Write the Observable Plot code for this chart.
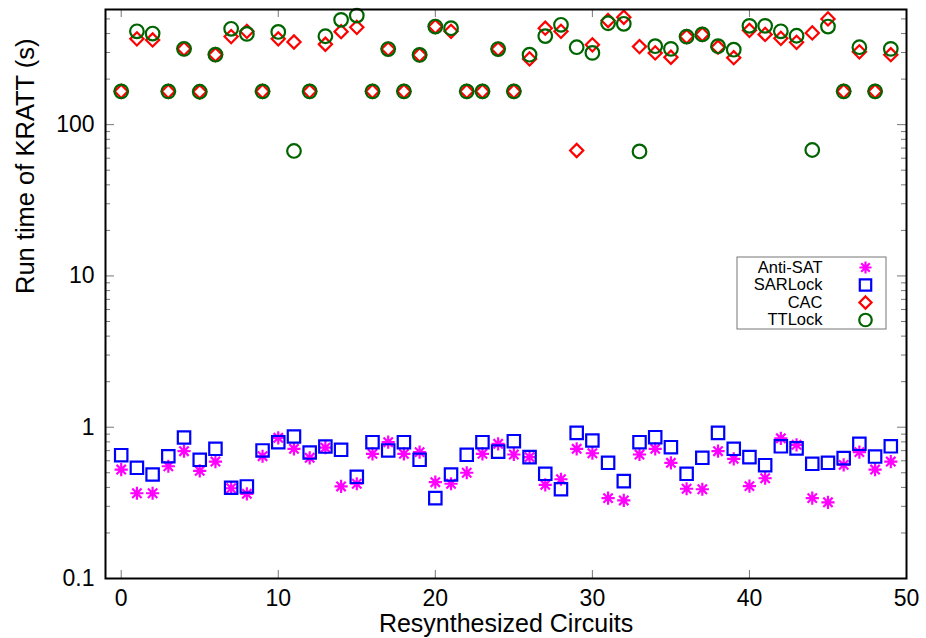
<!DOCTYPE html>
<html>
<head>
<meta charset="utf-8">
<script src="https://cdn.jsdelivr.net/npm/d3@7"></script>
<script src="https://cdn.jsdelivr.net/npm/@observablehq/plot@0.6"></script>
<style>
  html, body { margin: 0; padding: 0; background: white; }
  #chart { width: 926px; height: 638px; }
</style>
</head>
<body>
<div id="chart"></div>
<script>
// ---- data ----
const circuits = d3.range(50);
const antiSAT = [0.525,0.366,0.366,0.552,0.694,0.515,0.593,0.395,0.363,0.643,
                 0.851,0.720,0.628,0.732,0.406,0.423,0.667,0.796,0.667,0.684,
                 0.433,0.423,0.500,0.667,0.777,0.660,0.634,0.416,0.453,0.720,
                 0.673,0.340,0.328,0.660,0.720,0.582,0.392,0.389,0.694,0.618,
                 0.408,0.460,0.845,0.765,0.340,0.319,0.564,0.684,0.525,0.593];
const sarLock = [0.653,0.539,0.487,0.643,0.855,0.609,0.720,0.398,0.406,0.702,
                 0.796,0.868,0.680,0.745,0.709,0.470,0.796,0.702,0.796,0.609,
                 0.340,0.487,0.657,0.796,0.690,0.808,0.634,0.492,0.389,0.918,
                 0.817,0.582,0.440,0.796,0.859,0.738,0.492,0.628,0.918,0.720,
                 0.634,0.561,0.748,0.725,0.573,0.582,0.625,0.777,0.640,0.748];
const cac = [166,369,363,166,317,165,290,382,414,166,
             369,352,166,340,412,440,166,316,166,289,
             445,414,166,166,316,166,272,434,414,67.5,
             337,488,513,328,298,279,382,395,325,277,
             420,395,372,350,404,500,166,303,166,290];
const ttLock = [166,414,400,166,317,165,290,430,398,166,
                410,67,166,384,493,526,166,316,166,289,
                445,434,166,166,316,166,290,385,457,325,
                298,468,464,66.5,330,317,382,395,330,313,
                450,450,414,387,68,445,166,325,166,317];
const seriesNames = ["Anti-SAT", "SARLock", "CAC", "TTLock"];
const seriesColors = ["#ff00ff", "#0000ff", "#ff0000", "#006400"];
const xTicks = [0, 10, 20, 30, 40, 50];
const yMajor = [0.1, 1, 10, 100];
const yMinor = [0.2,0.3,0.4,0.5,0.6,0.7,0.8,0.9,2,3,4,5,6,7,8,9,20,30,40,50,60,70,80,90,200,300,400,500];

// ---- symbols ----
const rad = (size) => Math.sqrt(size / Math.PI);
const symAsterisk = {draw(c, size) { const r = rad(size), d = r * Math.SQRT1_2;
  c.moveTo(-r, 0); c.lineTo(r, 0); c.moveTo(0, -r); c.lineTo(0, r);
  c.moveTo(-d, -d); c.lineTo(d, d); c.moveTo(-d, d); c.lineTo(d, -d); }};
const symSquare = {draw(c, size) { const r = rad(size);
  c.moveTo(-r, -r); c.lineTo(r, -r); c.lineTo(r, r); c.lineTo(-r, r); c.closePath(); }};
const symDiamond = {draw(c, size) { const r = rad(size);
  c.moveTo(0, -r); c.lineTo(r, 0); c.lineTo(0, r); c.lineTo(-r, 0); c.closePath(); }};
const symCircle = {draw(c, size) { const r = rad(size);
  c.moveTo(r, 0); c.arc(0, 0, r, 0, 2 * Math.PI); c.closePath(); }};
const symbols = [symAsterisk, symSquare, symDiamond, symCircle];
const radii = [6.6, 6.2, 6.6, 6.8];
const values = [antiSAT, sarLock, cac, ttLock];

const W = 926, H = 638, mL = 105, mR = 20, mT = 9, mB = 60;
const pw = W - mL - mR, ph = H - mT - mB;
const tickColor = "#777";

const marks = [];
// ticks (inward, mirrored)
marks.push(Plot.tickX(xTicks, {x: d => d, insetTop: ph - 8, stroke: tickColor}));
marks.push(Plot.tickX(xTicks, {x: d => d, insetBottom: ph - 8, stroke: tickColor}));
marks.push(Plot.tickY(yMajor, {y: d => d, insetRight: pw - 9, stroke: tickColor}));
marks.push(Plot.tickY(yMajor, {y: d => d, insetLeft: pw - 9, stroke: tickColor}));
marks.push(Plot.tickY(yMinor, {y: d => d, insetRight: pw - 5, stroke: tickColor}));
marks.push(Plot.tickY(yMinor, {y: d => d, insetLeft: pw - 5, stroke: tickColor}));
// axes labels
marks.push(Plot.axisX(xTicks, {tickSize: 0, tickPadding: 11, fontSize: 23, label: null, tickFormat: d => String(d)}));
marks.push(Plot.axisY(yMajor, {tickSize: 0, tickPadding: 11, fontSize: 23, label: null, tickFormat: d => String(d)}));
marks.push(Plot.text(["Resynthesized Circuits"], {frameAnchor: "bottom", dy: 45, fontSize: 25, lineAnchor: "middle", fill: "black"}));
marks.push(Plot.text(["Run time of KRATT (s)"], {frameAnchor: "left", dx: -80, rotate: -90, fontSize: 25.5, lineAnchor: "middle", fill: "black"}));
// data
values.forEach((vals, k) => {
  marks.push(Plot.dot(circuits, {x: d => d, y: d => vals[d], symbol: symbols[k], r: radii[k],
    stroke: seriesColors[k], strokeWidth: 2.2, fill: "none"}));
});
// legend
seriesNames.forEach((name, k) => {
  const dy = 258 + 17.5 * k;
  marks.push(Plot.text([name], {frameAnchor: "top-right", dx: -84, dy, textAnchor: "end",
    lineAnchor: "middle", fontSize: 16.5, fill: "black"}));
  marks.push(Plot.dot([name], {frameAnchor: "top-right", dx: -41, dy, symbol: symbols[k],
    r: radii[k] * 0.92, stroke: seriesColors[k], strokeWidth: 2.2, fill: "none"}));
});
marks.push(Plot.frame({stroke: "black", strokeWidth: 2}));

const chart = Plot.plot({
  width: W, height: H,
  marginLeft: mL, marginRight: mR, marginTop: mT, marginBottom: mB,
  style: {fontFamily: "'Liberation Sans', Arial, sans-serif", fontSize: "23px", background: "white", color: "black"},
  x: {domain: [-1, 50], label: null},
  y: {type: "log", domain: [0.1, 577], label: null},
  marks
});
document.getElementById("chart").appendChild(chart);
// legend box
d3.select(chart).append("rect")
  .attr("x", 737).attr("y", 257).attr("width", 149).attr("height", 72)
  .attr("fill", "none").attr("stroke", "#777").attr("stroke-width", 1);
</script>
</body>
</html>
